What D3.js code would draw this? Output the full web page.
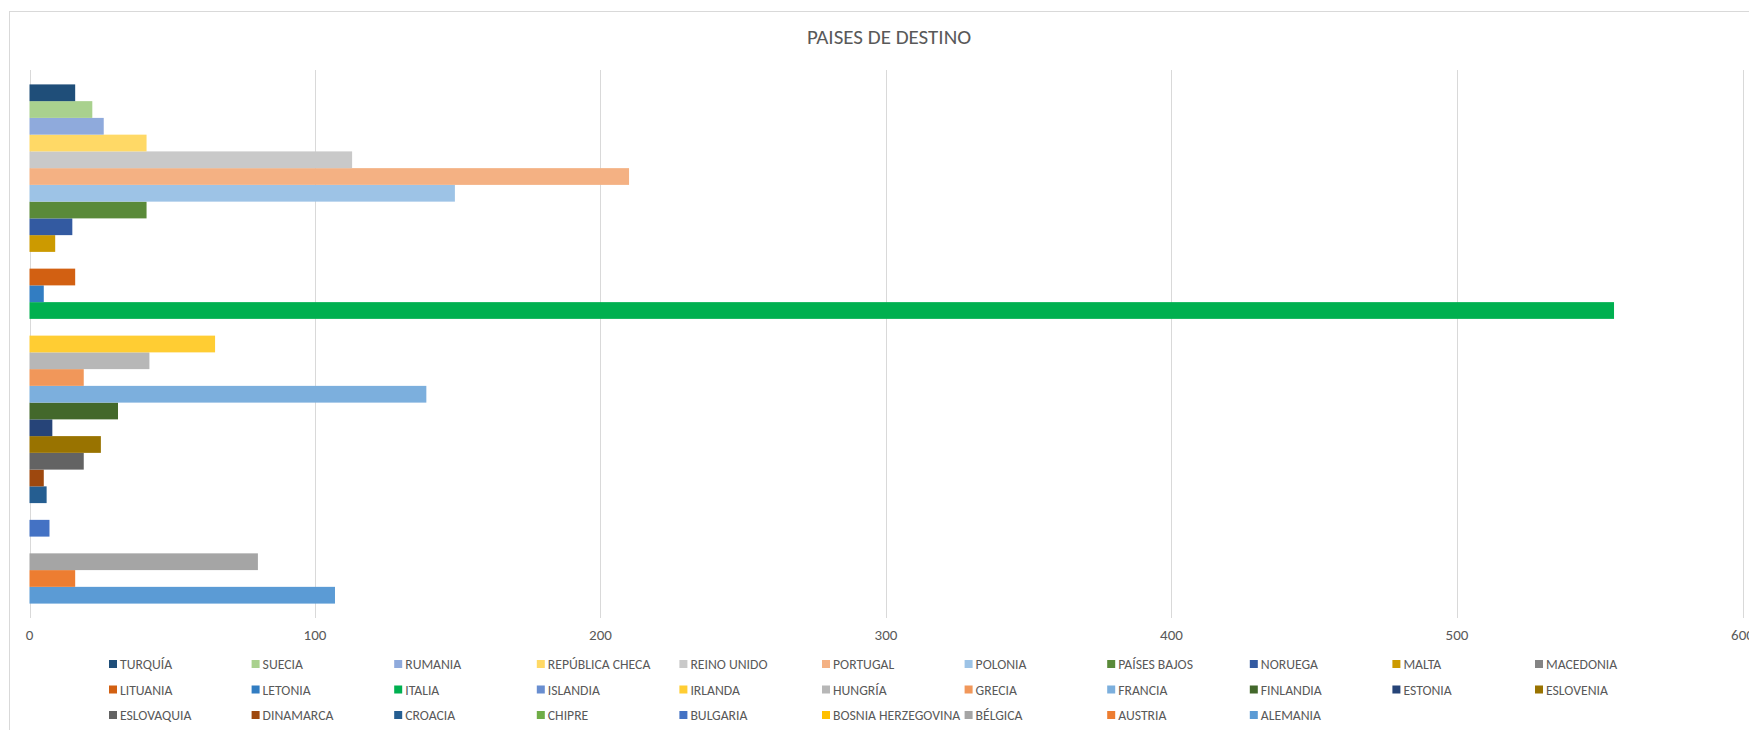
<!DOCTYPE html>
<meta charset="UTF-8">
<style>
  html, body { margin: 0; padding: 0; background: #fff; }
  svg text { font-family: "Liberation Sans Narrow", "Carlito", Calibri, sans-serif; fill: #595959; }
</style>
<svg width="1749" height="730"></svg>
<script src="https://cdn.jsdelivr.net/npm/d3@7"></script>
<script>

// series, bottom bar first (Excel draws the first series at the bottom)
var countries = ["ALEMANIA", "AUSTRIA", "BÉLGICA", "BOSNIA HERZEGOVINA", "BULGARIA", "CHIPRE",
    "CROACIA", "DINAMARCA", "ESLOVAQUIA", "ESLOVENIA", "ESTONIA", "FINLANDIA", "FRANCIA",
    "GRECIA", "HUNGRÍA", "IRLANDA", "ISLANDIA", "ITALIA", "LETONIA", "LITUANIA", "MACEDONIA",
    "MALTA", "NORUEGA", "PAÍSES BAJOS", "POLONIA", "PORTUGAL", "REINO UNIDO",
    "REPÚBLICA CHECA", "RUMANIA", "SUECIA", "TURQUÍA"];

var values = [107, 16, 80, 0, 7, 0,
    6, 5, 19, 25, 8, 31, 139,
    19, 42, 65, 0, 555, 5, 16, 0,
    9, 15, 41, 149, 210, 113,
    41, 26, 22, 16];

var colors = ["#5B9BD5", "#ED7D31", "#A5A5A5", "#FFC000", "#4472C4", "#70AD47",
    "#255E91", "#9E480E", "#636363", "#997300", "#264478", "#43682B", "#7CAFDD",
    "#F1975A", "#B7B7B7", "#FFCD33", "#698ED0", "#00B050", "#327DC2", "#D26012", "#848484",
    "#CC9A00", "#335AA1", "#5A8A39", "#9DC3E6", "#F4B183", "#C9C9C9",
    "#FFD966", "#8FAADC", "#A9D18E", "#1F4E79"];

var xTicks = [0, 100, 200, 300, 400, 500, 600];

var svg = d3.select("svg");

var plot = {left: 29.5, right: 1742.5, top: 70, bottom: 618};

// chart frame
svg.append("rect")
    .attr("x", 9.5).attr("y", 11.5)
    .attr("width", 1760).attr("height", 740)
    .attr("fill", "#fff").attr("stroke", "#D9D9D9");

svg.append("text")
    .attr("x", 889).attr("y", 44)
    .attr("text-anchor", "middle")
    .style("font-size", "21px")
    .text("PAISES DE DESTINO");

var x = d3.scaleLinear().domain([0, 600]).range([plot.left, plot.right]);

// top series first on screen
var y = d3.scaleBand()
    .domain(countries.slice().reverse())
    .range([plot.top, plot.bottom])
    .paddingOuter(0.86)
    .paddingInner(0);

svg.append("g").selectAll("line")
  .data(xTicks)
  .join("line")
    .attr("x1", d => Math.round(x(d)) + 0.5).attr("x2", d => Math.round(x(d)) + 0.5)
    .attr("y1", plot.top).attr("y2", plot.bottom)
    .attr("stroke", "#D9D9D9");

svg.append("g").selectAll("text")
  .data(xTicks)
  .join("text")
    .attr("x", d => x(d)).attr("y", 640)
    .attr("text-anchor", "middle")
    .style("font-size", "15px")
    .text(d => d);

svg.append("g").selectAll("rect")
  .data(countries)
  .join("rect")
    .attr("x", x(0))
    .attr("y", d => y(d))
    .attr("width", (d, i) => x(values[i]) - x(0))
    .attr("height", y.bandwidth())
    .attr("fill", (d, i) => colors[i]);

// legend: TURQUÍA first, row-major, 11 columns
var legendItems = d3.range(countries.length).reverse();
var legend = svg.append("g").selectAll("g")
  .data(legendItems)
  .join("g")
    .attr("transform", (d, k) => "translate(" + (109 + (k % 11) * 142.6) + "," + (664 + Math.floor(k / 11) * 25.5) + ")");

legend.append("rect")
    .attr("x", 0).attr("y", -4)
    .attr("width", 8).attr("height", 8)
    .attr("fill", d => colors[d]);

legend.append("text")
    .attr("x", 11).attr("y", 5)
    .style("font-size", "13.7px")
    .text(d => countries[d]);

</script>
